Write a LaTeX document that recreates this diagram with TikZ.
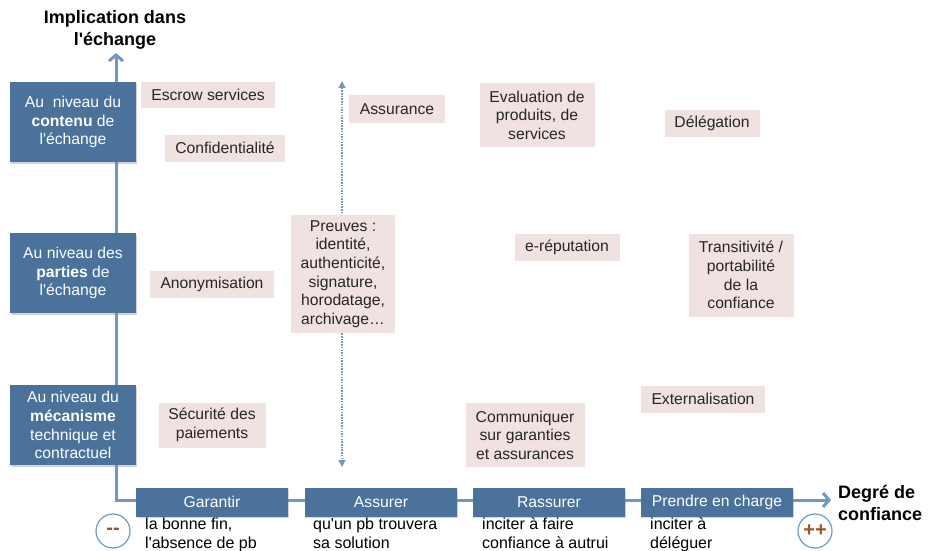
\documentclass[tikz,border=0pt]{standalone}
\usepackage{fontspec}
\setmainfont{Liberation Sans}
\usetikzlibrary{arrows.meta,shadows}
\definecolor{boxblue}{HTML}{4A729A}
\definecolor{axisblue}{HTML}{7099C2}
\definecolor{pinkfill}{HTML}{F0E2E1}
\definecolor{brownt}{HTML}{A0522D}
\newcommand\apos{\textquotesingle}
\tikzset{
  bluebox/.style={rectangle, fill=boxblue, text=white, inner sep=0pt, align=center,
    font=\fontsize{15.7}{18.8}\selectfont,
    drop shadow={opacity=0.35, shadow xshift=1pt, shadow yshift=-1.5pt}},
  pinkbox/.style={rectangle, fill=pinkfill, text=black!85, inner sep=0pt, align=center,
    font=\fontsize{15.7}{18.6}\selectfont},
  sublabel/.style={anchor=north west, inner sep=0pt, align=left, text=black,
    font=\fontsize{16}{19}\selectfont},
  axisline/.style={draw=axisblue, line width=3pt},
  endcircle/.style={circle, draw=axisblue, line width=1.2pt, fill=white, minimum size=34pt, inner sep=0pt,
    text=brownt, font=\fontsize{20}{20}\selectfont\bfseries},
  axistitle/.style={inner sep=0pt, font=\fontsize{18}{21.5}\selectfont\bfseries}
}
\begin{document}
\begin{tikzpicture}[x=1pt,y=-1pt]
\useasboundingbox (0,0) rectangle (935,551);

% axes
\coordinate (ytip) at (116,53);
\coordinate (xtip) at (831,500);
\draw[axisline, {Straight Barb[length=6pt,width=14pt]}-{Straight Barb[length=6pt,width=14pt]}] (ytip) |- (xtip);

% dotted arrow
\coordinate (dtop) at (342,81);
\coordinate (dbot) at (342,467);
\draw[axisblue, line width=1.3pt, dash pattern=on 1.5pt off 1.2pt, {Triangle[length=7pt,width=7pt]}-{Triangle[length=7pt,width=7pt]}] (dtop) -- (dbot);

% titles
\node[axistitle, align=center] (ytitle) at (115,30) {Implication dans\\l\apos échange};
\node[axistitle, align=left, anchor=west] (xtitle) at (838,503) {Degré de\\confiance};

% left boxes
\node[bluebox, minimum width=126pt, minimum height=80pt] (contenu) at (73,122) {Au\ \ niveau du\\\textbf{contenu} de\\l\apos échange};
\node[bluebox, minimum width=126pt, minimum height=80pt] (parties) at (73,273) {Au niveau des\\\textbf{parties} de\\l\apos échange};
\node[bluebox, minimum width=126pt, minimum height=80pt] (meca) at (73,425) {Au niveau du\\\textbf{mécanisme}\\technique et\\contractuel};

% pink boxes
\node[pinkbox, minimum width=134pt, minimum height=26pt] (escrow) at (208,95) {Escrow services};
\node[pinkbox, minimum width=120pt, minimum height=27pt] (confid) at (225,148) {Confidentialité};
\node[pinkbox, minimum width=124pt, minimum height=27pt] (anonym) at (212,284) {Anonymisation};
\node[pinkbox, minimum width=107pt, minimum height=45pt] (secu) at (212,425) {Sécurité des\\paiements};
\node[pinkbox, minimum width=104pt, minimum height=118pt] (preuves) at (343,274) {Preuves :\\identité,\\authenticité,\\signature,\\horodatage,\\archivage…};
\node[pinkbox, minimum width=96pt, minimum height=27pt] (assurance) at (397,109) {Assurance};
\node[pinkbox, minimum width=115pt, minimum height=64pt] (eval) at (537,115) {Evaluation de\\produits, de\\services};
\node[pinkbox, minimum width=95pt, minimum height=27pt] (deleg) at (712,123) {Délégation};
\node[pinkbox, minimum width=105pt, minimum height=27pt] (erep) at (567,247) {e-réputation};
\node[pinkbox, minimum width=105pt, minimum height=83pt] (trans) at (741,275) {Transitivité /\\portabilité\\de la\\confiance};
\node[pinkbox, minimum width=124pt, minimum height=27pt] (extern) at (703,399) {Externalisation};
\node[pinkbox, minimum width=119pt, minimum height=64pt] (comm) at (525,435) {Communiquer\\sur garanties\\et assurances};

% bottom boxes
\node[bluebox, minimum width=152pt, minimum height=29pt] (garantir) at (212,502) {Garantir};
\node[bluebox, minimum width=152pt, minimum height=29pt] (assurer) at (381,502) {Assurer};
\node[bluebox, minimum width=152pt, minimum height=29pt] (rassurer) at (549,502) {Rassurer};
\node[bluebox, minimum width=152pt, minimum height=29pt] (prendre) at (717,502) {Prendre en charge};

% sub labels
\node[sublabel] (sgar) at (145,518) {la bonne fin,\\l\apos absence de pb};
\node[sublabel] (sass) at (313,518) {qu\apos un pb trouvera\\sa solution};
\node[sublabel] (sras) at (482,518) {inciter à faire\\confiance à autrui};
\node[sublabel] (spre) at (650,518) {inciter à\\déléguer};

% circles
\node[endcircle] (minus) at (113,531) {-{}-};
\node[endcircle] (plus) at (815,531) {++};
\end{tikzpicture}
\end{document}
